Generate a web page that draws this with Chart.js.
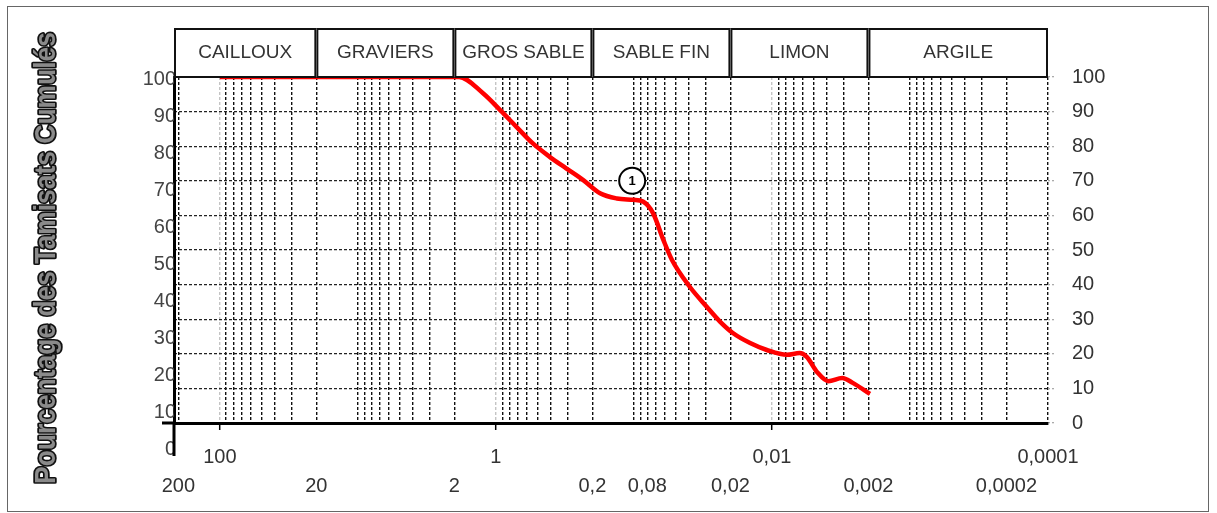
<!DOCTYPE html>
<html>
<head>
<meta charset="utf-8">
<script src="https://cdn.jsdelivr.net/npm/chart.js@4.4.1/dist/chart.umd.min.js"></script>
<style>
body{margin:0;background:#fff}
#wrap{position:relative;width:1217px;height:513px}
#frame{position:absolute;left:7px;top:6px;width:1200px;height:504px;border:1px solid #666}
canvas{position:absolute;left:0;top:0}
</style>
</head>
<body>
<div id="wrap"><div id="frame"></div><canvas id="myChart" width="1217" height="513"></canvas></div>
<script>
// courbe granulometrique (diametre en mm, % de tamisats cumules)
var sizes = [100, 1.85, 1.24, 0.935, 0.71, 0.54, 0.41, 0.31, 0.233, 0.176,
             0.133, 0.101, 0.086, 0.0726, 0.0612, 0.053, 0.0393, 0.0297, 0.0238, 0.0192,
             0.0144, 0.0109, 0.0078, 0.0063, 0.0056, 0.0047, 0.0039, 0.0031, 0.0026, 0.00195]
var passing = [100, 100, 95.3, 90.5, 85.6, 80.8, 77.0, 73.6, 70.2, 66.4,
               64.9, 64.5, 64.0, 60.6, 52.9, 47.1, 39.3, 33.6, 29.3, 26.0,
               23.1, 21.1, 19.7, 20.2, 19.1, 14.7, 12.1, 13.0, 11.6, 8.4]

var markerSize = [0.103]
var markerPct = [70]
var markerLabel = ['1']

var zoneNames = ['CAILLOUX', 'GRAVIERS', 'GROS SABLE', 'SABLE FIN', 'LIMON', 'ARGILE']
var zoneEdges = [215, 20, 2, 0.2, 0.02, 0.002, 0.0001]

var topTicks = [100, 1, 0.01, 0.0001]
var topLabels = ['100', '1', '0,01', '0,0001']
var bottomTicks = [200, 20, 2, 0.2, 0.08, 0.02, 0.002, 0.0002]
var bottomLabels = ['200', '20', '2', '0,2', '0,08', '0,02', '0,002', '0,0002']

var pctTicks = [0, 10, 20, 30, 40, 50, 60, 70, 80, 90, 100]

var yTitle = 'Pourcentage des Tamisats Cumulés'

// grille log : 1..9 x 10^k
var gridTicks = []
for (var k = 2; k >= -4; k--) {
    for (var s = 9; s >= 1; s--) {
        var v = s * Math.pow(10, k)
        if (v <= 200) gridTicks.push(v)
    }
}

function same(a, b) { return Math.abs(a / b - 1) < 1e-6 }
function findIn(list, v) {
    for (var i = 0; i < list.length; i++) if (same(list[i], v)) return i
    return -1
}

var FONT = "'Liberation Sans', Arial, sans-serif"
Chart.defaults.font.family = FONT

var extras = {
    id: 'extras',
    afterDatasetsDraw: function(chart) {
        var ctx = chart.ctx
        var meta = chart.getDatasetMeta(1)
        ctx.save()
        ctx.fillStyle = '#000'
        ctx.font = 'bold 13px ' + FONT
        ctx.textAlign = 'center'
        ctx.textBaseline = 'middle'
        meta.data.forEach(function(pt, i) {
            ctx.fillText(markerLabel[i], pt.x, pt.y + 1)
        })
        ctx.restore()
    },
    afterDraw: function(chart) {
        var ctx = chart.ctx
        var area = chart.chartArea
        var xs = chart.scales.x
        ctx.save()

        // prolongement des axes
        ctx.strokeStyle = '#000'
        ctx.lineWidth = 3
        ctx.beginPath()
        ctx.moveTo(area.left - 12, area.bottom)
        ctx.lineTo(area.left, area.bottom)
        ctx.moveTo(area.left, area.bottom)
        ctx.lineTo(area.left, area.bottom + 33)
        ctx.stroke()

        // bandeau des classes
        ctx.lineWidth = 2
        ctx.font = '19px ' + FONT
        ctx.textAlign = 'center'
        ctx.textBaseline = 'middle'
        for (var i = 0; i < zoneNames.length; i++) {
            var x1 = xs.getPixelForValue(zoneEdges[i])
            var x2 = xs.getPixelForValue(zoneEdges[i + 1])
            var top = 29
            ctx.fillStyle = '#fff'
            ctx.fillRect(x1, top, x2 - x1, area.top - top)
            ctx.strokeStyle = '#111'
            ctx.strokeRect(x1 + 1, top, x2 - x1 - 2, area.top - top)
            ctx.fillStyle = '#333'
            ctx.fillText(zoneNames[i], (x1 + x2) / 2, (top + area.top) / 2)
        }

        // titre vertical
        ctx.translate(47, 258)
        ctx.rotate(-Math.PI / 2)
        ctx.font = 'bold 30px ' + FONT
        var w = ctx.measureText(yTitle).width
        ctx.scale(452 / w, 1)
        ctx.textAlign = 'center'
        ctx.textBaseline = 'middle'
        ctx.lineJoin = 'round'
        ctx.strokeStyle = '#111'
        ctx.lineWidth = 3.5
        ctx.strokeText(yTitle, 0, 0)
        ctx.fillStyle = '#8a8a8a'
        ctx.fillText(yTitle, 0, 0)
        ctx.restore()
    }
}

var chart = new Chart(document.getElementById('myChart').getContext('2d'), {
    type: 'line',
    data: {
        datasets: [
            {
                label: 'Echantillon',
                data: sizes.map(function(s, i) { return {x: s, y: passing[i]} }),
                borderColor: '#ff0000',
                borderWidth: 4.5,
                pointRadius: 0,
                fill: false,
                cubicInterpolationMode: 'monotone',
                yAxisID: 'y'
            },
            {
                label: 'Repere',
                data: markerSize.map(function(s, i) { return {x: s, y: markerPct[i]} }),
                showLine: false,
                pointRadius: 13,
                pointBorderWidth: 2,
                pointBackgroundColor: '#fff',
                pointBorderColor: '#000',
                yAxisID: 'y'
            }
        ]
    },
    options: {
        responsive: false,
        animation: false,
        devicePixelRatio: 1,
        layout: {padding: {top: 77, left: 0, right: 0, bottom: 0}},
        plugins: {legend: {display: false}, tooltip: {enabled: false}},
        scales: {
            x: {
                type: 'logarithmic',
                reverse: true,
                min: 0.0001,
                max: 215,
                afterBuildTicks: function(scale) {
                    scale.ticks = gridTicks.map(function(v) { return {value: v} })
                },
                afterFit: function(scale) { scale.height = 90 },
                ticks: {
                    autoSkip: false,
                    maxRotation: 0,
                    minRotation: 0,
                    padding: 13,
                    color: '#333',
                    font: {size: 20, lineHeight: 1.45},
                    callback: function(value) {
                        var a = findIn(topTicks, value)
                        var b = findIn(bottomTicks, value)
                        if (a < 0 && b < 0) return ''
                        return [a >= 0 ? topLabels[a] : '', b >= 0 ? bottomLabels[b] : '']
                    }
                },
                grid: {
                    lineWidth: 1.4,
                    color: function(c) {
                        var v = c.tick ? c.tick.value : 0
                        if (findIn(topTicks, v) >= 0 && !same(v, 0.0001)) return '#c4c4c4'
                        return '#111'
                    },
                    tickLength: 7,
                    tickWidth: 1.5,
                    tickBorderDash: [],
                    tickColor: function(c) {
                        var v = c.tick ? c.tick.value : 0
                        if (findIn(topTicks, v) >= 0 && !same(v, 0.0001)) return '#000'
                        return 'rgba(0,0,0,0)'
                    }
                },
                border: {display: true, width: 3, color: '#000', dash: [3, 2]}
            },
            y: {
                type: 'linear',
                position: 'right',
                min: 0,
                max: 100,
                afterBuildTicks: function(scale) {
                    scale.ticks = pctTicks.map(function(v) { return {value: v} })
                },
                afterFit: function(scale) { scale.width = 169 },
                ticks: {color: '#333', font: {size: 20}, padding: 18},
                grid: {
                    color: '#222',
                    lineWidth: 1.3,
                    tickLength: 6,
                    tickColor: '#aaa',
                    tickBorderDash: [2, 2]
                },
                border: {display: false, dash: [3, 2]}
            },
            yl: {
                type: 'linear',
                position: 'left',
                min: 7.05,
                max: 100.8,
                afterBuildTicks: function(scale) {
                    scale.ticks = pctTicks.map(function(v) { return {value: v} })
                },
                afterFit: function(scale) { scale.width = 174 },
                ticks: {color: '#444', font: {size: 20}, padding: -2},
                grid: {display: false, drawTicks: false},
                border: {display: true, width: 3, color: '#000'}
            }
        }
    },
    plugins: [extras]
})
</script>
</body>
</html>
